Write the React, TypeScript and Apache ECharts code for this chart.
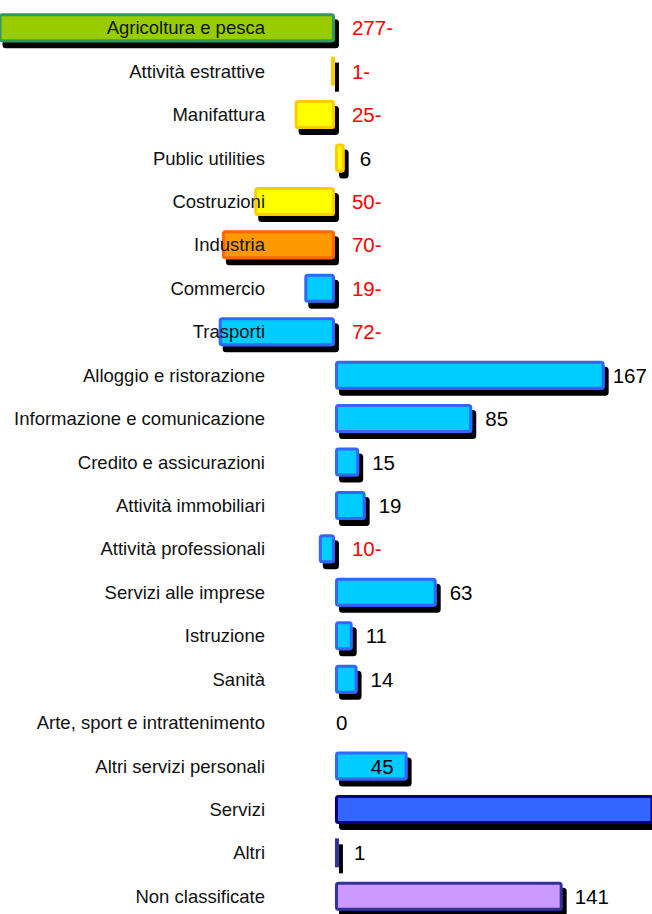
import React, { useEffect, useRef } from "react";
import * as echarts from "echarts";

const categories = [
  "Agricoltura e pesca",
  "Attività estrattive",
  "Manifattura",
  "Public utilities",
  "Costruzioni",
  "Industria",
  "Commercio",
  "Trasporti",
  "Alloggio e ristorazione",
  "Informazione e comunicazione",
  "Credito e assicurazioni",
  "Attività immobiliari",
  "Attività professionali",
  "Servizi alle imprese",
  "Istruzione",
  "Sanità",
  "Arte, sport e intrattenimento",
  "Altri servizi personali",
  "Servizi",
  "Altri",
  "Non classificate",
];

const values = [-277, -1, -25, 6, -50, -70, -19, -72, 167, 85, 15, 19, -10, 63, 11, 14, 0, 45, 318, 1, 141];

const groups = [
  "agri", "ind", "ind", "ind", "ind", "indTot",
  "serv", "serv", "serv", "serv", "serv", "serv", "serv", "serv", "serv", "serv", "serv", "serv",
  "servTot", "altri", "nc",
];

const groupStyle: Record<string, { fill: string; border: string }> = {
  agri: { fill: "#99CC00", border: "#339966" },
  ind: { fill: "#FFFF00", border: "#FFCC00" },
  indTot: { fill: "#FF9900", border: "#FF6600" },
  serv: { fill: "#00CCFF", border: "#3366FF" },
  servTot: { fill: "#3366FF", border: "#000080" },
  altri: { fill: "#333399", border: "#333399" },
  nc: { fill: "#CC99FF", border: "#333399" },
};

export default function App() {
  const ref = useRef<HTMLDivElement>(null);
  useEffect(() => {
    if (!ref.current) return;
    const chart = echarts.init(ref.current, undefined, { renderer: "svg" });
    const data = values.map((v, i) => {
      const st = groupStyle[groups[i]];
      let label: any;
      if (groups[i] === "servTot") {
        label = { show: false };
      } else if (v < 0) {
        label = {
          show: true,
          position: "right",
          distance: 17,
          color: "#FF0000",
          formatter: () => `${Math.abs(v)}-`,
        };
      } else if (categories[i] === "Altri servizi personali") {
        label = { show: true, position: "insideRight", distance: 14, color: "#000" };
      } else if (v === 0) {
        label = { show: true, position: "insideLeft", distance: 1, color: "#000" };
      } else {
        const d = v > 150 ? 8 : v >= 100 ? 12 : v < 10 ? 15 : 13;
        label = { show: true, position: "right", distance: d, color: "#000" };
      }
      const small = Math.abs(v) < 3;
      const zero = v === 0;
      return {
        value: v,
        itemStyle: {
          color: zero ? "rgba(0,0,0,0)" : small ? st.border : st.fill,
          borderColor: st.border,
          borderWidth: small ? 0 : 3,
          borderRadius: small ? 0 : 2,
          shadowColor: zero ? "rgba(0,0,0,0)" : "#000",
          shadowBlur: 0,
          shadowOffsetX: zero ? 0 : 4,
          shadowOffsetY: zero ? 0 : 6,
        },
        label,
      };
    });
    chart.setOption({
      animation: false,
      backgroundColor: "#fff",
      grid: { left: 0, right: 0, top: 6, height: 912, containLabel: false, outerBoundsMode: "none" },
      xAxis: {
        type: "value",
        min: -207.4,
        max: 196.3,
        axisLine: { show: false },
        axisTick: { show: false },
        axisLabel: { show: false },
        splitLine: { show: false },
      },
      yAxis: {
        type: "category",
        inverse: true,
        data: categories,
        offset: -335,
        z: 10,
        axisLine: { show: false, onZero: false },
        axisTick: { show: false },
        axisLabel: {
          margin: 70,
          fontSize: 18.5,
          fontFamily: "'Liberation Sans', Arial, sans-serif",
          color: "#111",
        },
      },
      series: [
        {
          type: "bar",
          data,
          barWidth: 29,
          barMinHeight: 4,
          clip: true,
          label: {
            fontSize: 20.5,
            fontFamily: "'Liberation Sans', Arial, sans-serif",
          },
        },
      ],
    });
    return () => chart.dispose();
  }, []);
  return (
    <div style={{ position: "absolute", left: 0, top: 0 }}>
      <div ref={ref} style={{ width: 652, height: 914 }} />
    </div>
  );
}
